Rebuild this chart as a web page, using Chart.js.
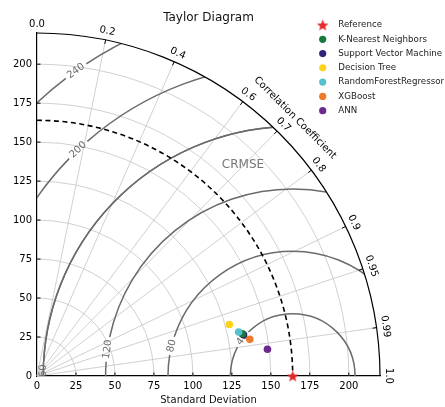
<!DOCTYPE html>
<html>
<head>
<meta charset="utf-8">
<script src="https://cdn.jsdelivr.net/npm/chart.js@4"></script>
<style>
  html, body { margin: 0; padding: 0; background: #fff; }
</style>
</head>
<body>
<canvas id="chart" width="445" height="407"></canvas>
<script>
// model results (std dev + correlation vs. observed)
const modelNames = ["K-Nearest Neighbors", "Support Vector Machine", "Decision Tree", "RandomForestRegressor", "XGBoost", "ANN"];
const modelStd = [134.4, 135.1, 127.7, 132.4, 138.5, 148.8];
const modelCorr = [0.9795, 0.9806, 0.966, 0.977, 0.9855, 0.9933];
const modelColors = ["#177a3c", "#35237a", "#fdd419", "#55c0cf", "#f07a2b", "#6a2a8e"];

const refName = "Reference";
const refStd = 164;

const stdTicks = [0, 25, 50, 75, 100, 125, 150, 175, 200];
const corrTicks = [0.0, 0.2, 0.4, 0.6, 0.7, 0.8, 0.9, 0.95, 0.99, 1.0];
const corrLabels = ["0.0", "0.2", "0.4", "0.6", "0.7", "0.8", "0.9", "0.95", "0.99", "1.0"];
const crmseLevels = [40, 80, 120, 160, 200, 240];
const maxStd = 220;

// where the contour labels sit on each arc (degrees, seen from the reference point)
const crmseLabelAngles = [143.8, 166, 171.8, 179.5, 133.5, 125.4];

const FONT = "'DejaVu Sans', sans-serif";

// filled red star for the reference point
function makeStar(size, color) {
  const c = document.createElement("canvas");
  c.width = size; c.height = size;
  const g = c.getContext("2d");
  const cx = size / 2, cy = size / 2 + 0.6, ro = size / 2 - 0.3, ri = ro * 0.42;
  g.beginPath();
  for (let i = 0; i < 10; i++) {
    const r = i % 2 ? ri : ro;
    const a = -Math.PI / 2 + i * Math.PI / 5;
    g.lineTo(cx + r * Math.cos(a), cy + r * Math.sin(a));
  }
  g.closePath();
  g.fillStyle = color;
  g.fill();
  return c;
}
const starImg = makeStar(13, "#e3292b");

const datasets = [{
  label: refName,
  data: [{ x: refStd, y: 0 }],
  pointStyle: starImg,
  clip: false,
  order: 0
}];
modelNames.forEach((name, i) => {
  const s = modelStd[i], c = modelCorr[i];
  datasets.push({
    label: name,
    data: [{ x: s * c, y: s * Math.sqrt(1 - c * c) }],
    backgroundColor: modelColors[i],
    borderWidth: 0,
    pointRadius: 3.8,
    order: i === 1 ? 9 : 6 - i
  });
});

const taylorGrid = {
  id: "taylorGrid",
  beforeDatasetsDraw(chart) {
    const ctx = chart.ctx;
    const xs = chart.scales.x, ys = chart.scales.y;
    const ox = xs.getPixelForValue(0), oy = ys.getPixelForValue(0);
    const R = xs.getPixelForValue(maxStd) - ox;
    const k = R / maxStd;

    ctx.save();
    // light std circles
    ctx.strokeStyle = "#c4c4c4";
    ctx.lineWidth = 0.8;
    stdTicks.forEach(s => {
      if (s === 0) return;
      ctx.beginPath();
      ctx.arc(ox, oy, s * k, -Math.PI / 2, 0);
      ctx.stroke();
    });
    // radial correlation lines
    corrTicks.forEach(c => {
      if (c === 0 || c === 1) return;
      const a = Math.acos(c);
      ctx.beginPath();
      ctx.moveTo(ox, oy);
      ctx.lineTo(ox + R * Math.cos(a), oy - R * Math.sin(a));
      ctx.stroke();
    });

    // CRMSE contours, clipped to the quarter circle
    ctx.save();
    ctx.beginPath();
    ctx.moveTo(ox, oy);
    ctx.arc(ox, oy, R, 0, -Math.PI / 2, true);
    ctx.closePath();
    ctx.clip();
    const cx = xs.getPixelForValue(refStd);
    ctx.font = "10px " + FONT;
    crmseLevels.forEach((lev, i) => {
      const rr = lev * k;
      const la = crmseLabelAngles[i] * Math.PI / 180;
      const txt = String(lev);
      const tw = ctx.measureText(txt).width;
      const gap = (tw / 2 + 3) / rr;
      ctx.strokeStyle = "#6b6b6b";
      ctx.lineWidth = 1.5;
      ctx.beginPath();
      ctx.arc(cx, oy, rr, 0, -(la - gap), true);
      ctx.stroke();
      ctx.beginPath();
      ctx.arc(cx, oy, rr, -(la + gap), -Math.PI, true);
      ctx.stroke();
      const lx = cx + rr * Math.cos(la), ly = oy - rr * Math.sin(la);
      ctx.save();
      ctx.translate(lx, ly);
      ctx.rotate(-(la - Math.PI / 2));
      ctx.fillStyle = "#6b6b6b";
      ctx.textAlign = "center";
      ctx.textBaseline = "middle";
      ctx.fillText(txt, 0, 0);
      ctx.restore();
    });
    ctx.restore();

    // reference std arc
    ctx.strokeStyle = "#000";
    ctx.lineWidth = 1.6;
    ctx.setLineDash([5, 3.5]);
    ctx.beginPath();
    ctx.arc(ox, oy, refStd * k, -Math.PI / 2, 0);
    ctx.stroke();
    ctx.setLineDash([]);

    // outer rim
    ctx.lineWidth = 1.2;
    ctx.beginPath();
    ctx.arc(ox, oy, R, -Math.PI / 2, 0);
    ctx.stroke();

    // inward ticks on both axes
    ctx.lineWidth = 1;
    stdTicks.forEach(s => {
      if (s === 0) return;
      const p = xs.getPixelForValue(s);
      ctx.beginPath(); ctx.moveTo(p, oy); ctx.lineTo(p, oy - 3.5); ctx.stroke();
      const q = ys.getPixelForValue(s);
      ctx.beginPath(); ctx.moveTo(ox, q); ctx.lineTo(ox + 3.5, q); ctx.stroke();
    });

    // correlation ticks + labels
    ctx.fillStyle = "#000";
    ctx.font = "10px " + FONT;
    ctx.textAlign = "center";
    ctx.textBaseline = "middle";
    corrTicks.forEach((c, i) => {
      const a = Math.acos(c);
      const ca = Math.cos(a), sa = Math.sin(a);
      if (c !== 0 && c !== 1) {
        ctx.beginPath();
        ctx.moveTo(ox + R * ca, oy - R * sa);
        ctx.lineTo(ox + (R - 4) * ca, oy - (R - 4) * sa);
        ctx.stroke();
      }
      ctx.save();
      ctx.translate(ox + (R + 9) * ca, oy - (R + 9) * sa);
      ctx.rotate(Math.PI / 2 - a);
      ctx.fillText(corrLabels[i], 0, 0);
      ctx.restore();
    });

    // axis name along the rim
    ctx.save();
    ctx.translate(ox + (R + 22) * Math.cos(Math.PI / 4), oy - (R + 22) * Math.sin(Math.PI / 4));
    ctx.rotate(Math.PI / 4);
    ctx.fillText("Correlation Coefficient", 0, 0);
    ctx.restore();

    ctx.fillStyle = "#777";
    ctx.font = "12px " + FONT;
    ctx.fillText("CRMSE", 243, 165);
    ctx.restore();
  },
  afterDraw(chart) {
    const ctx = chart.ctx;
    const area = chart.chartArea;
    ctx.save();
    ctx.fillStyle = "#111";
    ctx.font = "12px " + FONT;
    ctx.textAlign = "center";
    ctx.textBaseline = "middle";
    ctx.fillText("Taylor Diagram", (area.left + area.right) / 2, 18);

    // legend
    const mx = 322.7, tx = 338.3, y0 = 25, step = 14.28;
    ctx.font = "8.7px " + FONT;
    ctx.textAlign = "left";
    ctx.fillStyle = "#222";
    ctx.drawImage(starImg, mx - starImg.width / 2, y0 - starImg.height / 2);
    ctx.fillText(refName, tx, y0);
    modelNames.forEach((name, i) => {
      const y = y0 + step * (i + 1);
      ctx.beginPath();
      ctx.arc(mx, y, 3.6, 0, Math.PI * 2);
      ctx.fillStyle = modelColors[i];
      ctx.fill();
      ctx.fillStyle = "#222";
      ctx.fillText(name, tx, y);
    });
    ctx.restore();
  }
};

new Chart(document.getElementById("chart"), {
  type: "scatter",
  data: { datasets: datasets },
  plugins: [taylorGrid],
  options: {
    responsive: false,
    animation: false,
    devicePixelRatio: 1,
    layout: { padding: { left: 0, top: 33, right: 65, bottom: 0 } },
    plugins: {
      legend: { display: false },
      tooltip: { enabled: false }
    },
    scales: {
      x: {
        type: "linear",
        min: 0,
        max: maxStd,
        afterBuildTicks: s => { s.ticks = stdTicks.map(v => ({ value: v })); },
        afterFit: s => { s.height = 31; },
        ticks: { color: "#000", font: { family: FONT, size: 10 }, padding: 4, maxRotation: 0 },
        grid: { display: false, drawTicks: false },
        border: { display: true, color: "#000", width: 1.2 },
        title: { display: true, text: "Standard Deviation", color: "#111", font: { family: FONT, size: 10 }, padding: { top: 0, bottom: 1 } }
      },
      y: {
        type: "linear",
        min: 0,
        max: maxStd,
        afterBuildTicks: s => { s.ticks = stdTicks.map(v => ({ value: v })); },
        afterFit: s => { s.width = 37; },
        ticks: { color: "#000", font: { family: FONT, size: 10 }, padding: 5 },
        grid: { display: false, drawTicks: false },
        border: { display: true, color: "#000", width: 1.2 }
      }
    }
  }
});
</script>
</body>
</html>
